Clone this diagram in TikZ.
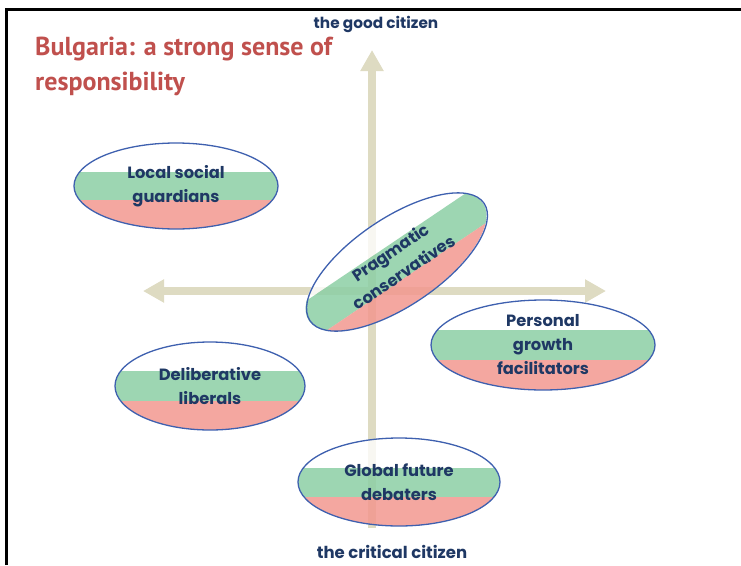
\documentclass[tikz,border=0pt]{standalone}
\usepackage{fontspec}
\setmainfont{Poppins}
\newfontfamily\titlefont{PT Sans}
\usetikzlibrary{arrows.meta,shapes.geometric}
\definecolor{axiscol}{RGB}{222,219,194}
\definecolor{stripegreen}{RGB}{140,207,165}
\definecolor{stripepink}{RGB}{242,152,143}
\definecolor{rim}{RGB}{62,96,175}
\definecolor{navy}{RGB}{31,56,100}
\definecolor{titlered}{RGB}{192,80,77}
\newcommand{\bandellipse}[6]{%
  \begin{scope}[shift={(#1,#2)},rotate=#5]
    \clip (0,0) ellipse [x radius=#3, y radius=#4];
    \fill[white,fill opacity=0.8] (-#3,-#4) rectangle (#3,-#6);
    \fill[stripegreen,fill opacity=0.85] (-#3,-#6) rectangle (#3,#6);
    \fill[stripepink,fill opacity=0.85] (-#3,#6) rectangle (#3,#4);
  \end{scope}}
\tikzset{
  axtip/.tip={Triangle[width=22pt,length=21pt]},
  axisline/.style={draw=axiscol, line width=8pt},
  group/.style={ellipse, draw=rim, line width=1.3pt, inner sep=0pt, align=center,
    text=navy, font=\bfseries\fontsize{16.3}{24}\selectfont},
  pole/.style={text=navy, font=\bfseries\fontsize{15.3}{18}\selectfont, inner sep=0pt},
}
\begin{document}
\begin{tikzpicture}[x=1pt,y=-1pt]
\useasboundingbox (0,0) rectangle (741,565);
% frame
\coordinate (fb) at (6,565);
\coordinate (fc) at (6,9);
\coordinate (fr) at (741,9);
\draw[line width=3pt] (fb) -- (fc) -- (fr);
% title
\node[anchor=north west, align=left, inner sep=0pt, text=titlered,
  font=\titlefont\bfseries\fontsize{26}{35}\selectfont] (title) at (35,37)
  {Bulgaria: a strong sense of\\responsibility};
% axes
\coordinate (vb) at (372,528);
\coordinate (vt) at (372,50);
\coordinate (hl) at (143,291);
\coordinate (hr) at (606,291);
\draw[axisline, -{axtip}] (vb) -- (vt);
\draw[axisline, {axtip}-{axtip}] (hl) -- (hr);
% pole labels
\node[pole, anchor=base] (good) at (376,28) {the good citizen};
\node[pole, anchor=base, font=\bfseries\fontsize{16.5}{18}\selectfont] (critical) at (392,558) {the critical citizen};
% stripes
\bandellipse{176}{186}{102}{43}{0}{14.3}
\bandellipse{396}{262}{105}{44}{34}{18}
\bandellipse{543}{345}{112}{45}{0}{15}
\bandellipse{210}{386}{95}{44}{0}{15}
\bandellipse{399}{482}{101}{44}{0}{14.5}
% group ellipses
\node[group, minimum width=204pt, minimum height=86pt] (lsg) at (176,186) {Local social\\guardians};
\node[group, minimum width=210pt, minimum height=88pt, rotate=34] (pc) at (397,262) {Pragmatic\\conservatives};
\node[group, minimum width=224pt, minimum height=90pt] (pgf) at (543,345) {Personal\\growth\\facilitators};
\node[group, minimum width=190pt, minimum height=88pt] (dl) at (210,386) {Deliberative\\liberals};
\node[group, minimum width=202pt, minimum height=88pt] (gfd) at (399,482) {Global future\\debaters};
\end{tikzpicture}
\end{document}
